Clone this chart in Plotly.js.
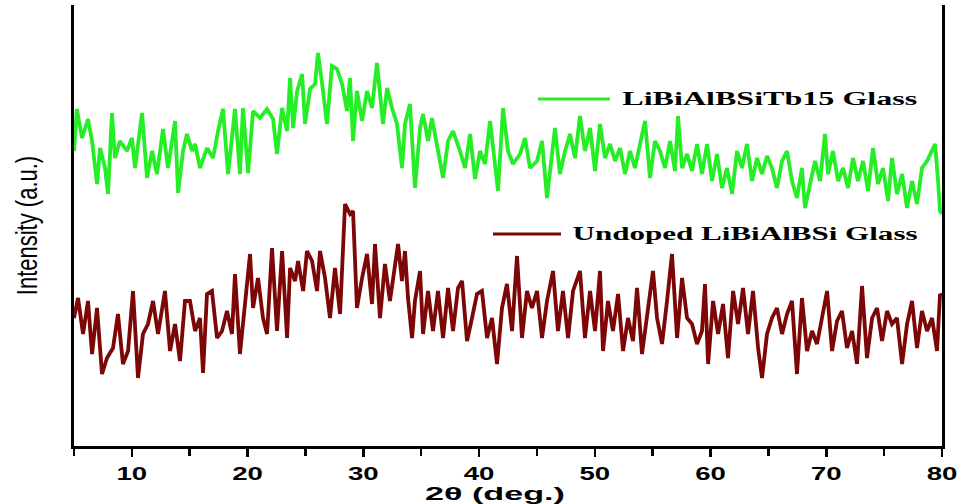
<!DOCTYPE html>
<html>
<head>
<meta charset="utf-8">
<script src="https://cdn.plot.ly/plotly-3.0.1.min.js"></script>
<style>
html,body{margin:0;padding:0;background:#fff;}
#chart{width:961px;height:504px;}
</style>
</head>
<body>
<div id="chart"></div>
<script>
// 2θ (deg.) values and intensities (a.u.)
const tbX = [5.0,5.25,5.69,6.21,6.56,6.99,7.25,7.68,7.94,8.28,8.54,8.97,9.58,10.01,10.27,10.88,11.31,11.74,12.17,12.69,13.12,13.73,13.99,14.42,14.76,15.20,15.46,15.89,16.49,17.01,17.45,17.88,18.31,18.91,19.34,19.60,20.04,20.47,21.07,21.68,22.20,22.54,22.98,23.41,23.67,23.93,24.28,24.71,24.96,25.40,25.83,26.08,26.52,26.86,27.29,27.73,28.16,28.59,28.85,29.11,29.45,29.89,30.32,30.75,31.18,31.70,32.05,32.48,32.91,33.34,33.60,34.03,34.46,34.90,35.16,35.59,35.93,36.45,36.89,37.32,37.75,38.35,38.79,39.22,39.65,40.08,40.51,40.95,41.38,41.64,42.07,42.50,42.93,43.54,43.97,44.40,45.01,45.44,45.87,46.30,46.56,46.99,47.43,47.86,48.29,48.72,49.15,49.59,50.02,50.45,50.88,51.31,51.75,52.18,52.61,53.04,53.47,53.91,54.34,54.77,55.20,55.63,56.07,56.50,56.93,57.19,57.54,57.97,58.40,58.83,59.26,59.70,60.13,60.56,60.99,61.42,61.86,62.29,62.72,63.15,63.58,64.02,64.45,64.88,65.31,65.74,66.18,66.61,67.04,67.47,67.90,68.16,68.60,69.03,69.46,69.89,70.15,70.58,71.02,71.45,71.88,72.31,72.74,73.18,73.61,74.04,74.47,74.90,75.34,75.68,76.11,76.55,76.98,77.41,77.84,78.27,78.71,79.14,79.40,79.66,79.83,80.0];
const tbY = [295,337,308,327,305,262,298,278,252,333,288,305,295,308,278,333,268,295,272,317,278,325,253,295,312,295,302,278,298,288,315,337,272,337,272,338,273,335,328,337,327,292,338,315,368,318,355,372,322,357,362,393,355,322,380,377,362,335,368,305,355,325,355,338,383,322,358,338,322,278,322,342,258,318,332,305,328,298,268,305,315,295,278,312,267,295,282,325,278,255,338,295,282,292,308,278,285,305,248,295,318,272,295,312,288,330,295,318,275,322,288,302,285,298,272,295,278,302,325,268,305,295,278,305,275,330,278,292,275,302,272,302,265,292,258,278,252,295,278,302,265,288,272,290,278,258,285,295,265,248,278,238,262,285,265,312,272,295,265,278,258,288,265,285,255,298,262,278,245,288,252,272,238,265,242,278,285,295,302,265,235,232];

const unX = [5.0,5.35,5.78,6.21,6.56,6.99,7.42,7.85,8.37,8.80,9.23,9.67,10.10,10.53,10.96,11.39,11.83,12.26,12.86,13.30,13.73,14.16,14.59,15.02,15.46,15.89,16.15,16.49,16.92,17.36,17.79,18.22,18.65,18.91,19.34,19.77,20.21,20.47,20.90,21.33,21.68,22.11,22.54,22.98,23.41,23.67,24.10,24.36,24.80,25.13,25.57,26.00,26.26,26.69,27.12,27.55,27.99,28.42,28.85,29.11,29.45,29.89,30.32,30.75,31.01,31.44,31.87,32.30,33.00,33.34,33.60,33.86,34.21,34.46,34.90,35.16,35.59,36.02,36.45,36.89,37.32,37.75,38.18,38.53,38.96,39.39,39.82,40.25,40.69,41.12,41.55,41.98,42.41,42.85,43.28,43.71,44.14,44.57,45.01,45.44,45.87,46.39,46.82,47.25,47.69,48.12,48.72,49.15,49.59,50.02,50.45,50.71,51.14,51.57,52.01,52.44,52.87,53.30,53.65,54.08,54.51,55.03,55.38,55.81,56.24,56.67,57.11,57.54,57.97,58.40,58.83,59.26,59.52,59.79,60.22,60.65,61.08,61.51,61.95,62.38,62.81,63.24,63.67,64.11,64.45,64.88,65.31,65.74,66.18,66.61,67.04,67.47,67.90,68.34,68.77,69.20,69.63,70.07,70.50,70.93,71.36,71.79,72.23,72.66,73.09,73.52,73.96,74.39,74.82,75.25,75.68,76.11,76.55,76.98,77.41,77.84,78.27,78.71,79.14,79.57,79.83,80.0];
const unY = [128,148,112,145,92,138,72,88,98,132,82,95,155,68,112,122,145,112,155,95,122,85,145,145,115,128,73,152,155,108,115,135,112,172,92,138,192,138,168,128,112,198,115,195,108,178,165,185,155,195,185,155,195,168,128,178,132,242,232,235,138,168,192,142,202,128,182,145,202,165,195,148,108,145,175,112,155,115,155,108,158,115,158,165,105,128,152,155,108,128,82,138,162,115,190,108,155,138,155,108,145,175,115,155,108,155,175,108,155,115,175,95,145,115,152,95,128,105,158,92,128,175,128,102,145,192,108,168,128,122,102,115,162,82,145,112,142,88,155,122,158,112,155,98,68,112,128,138,112,132,145,72,148,95,115,102,128,155,95,125,135,98,115,82,160,88,128,138,105,135,122,128,82,122,145,98,135,115,128,95,152,150];

const seriesNames = ['LiBiAlBSiTb15 Glass', 'Undoped LiBiAlBSi Glass'];
const xTickVals = [10,20,30,40,50,60,70,80];
const xMinorVals = [5,15,25,35,45,55,65,75];
const greenC = '#26ee26', redC = '#7d0606';

const traces = [
  {x: tbX, y: tbY, type:'scatter', mode:'lines', name: seriesNames[0],
   line:{color:greenC, width:3.8}},
  {x: unX, y: unY, type:'scatter', mode:'lines', name: seriesNames[1],
   line:{color:redC, width:3.8}}
];

const L = 74, R = 942, T = 5, B = 446;
const px = v => (v - L) / (R - L);
const py = v => (B - v) / (B - T);

const layout = {
  width: 961, height: 504,
  margin: {l: L, r: 961 - R, t: T, b: 504 - B},
  paper_bgcolor: '#fff', plot_bgcolor: '#fff',
  showlegend: false,
  xaxis: {
    range: [5, 80], tickvals: xTickVals, ticktext: xTickVals.map(String),
    ticks: 'outside', ticklen: 8, tickwidth: 2.5, tickcolor: '#000',
    ticklabelstandoff: 0,
    minor: {tickvals: xMinorVals, ticks:'outside', ticklen: 7, tickwidth: 2.5, tickcolor:'#000'},
    showline: true, linecolor: '#000', linewidth: 3,
    showgrid: false, zeroline: false,
    tickfont: {family: 'Liberation Sans, Arial', size: 19, color: '#000', weight: 'bold'},
    title: {text: '2θ (deg.)', font: {family: 'Liberation Sans, Arial', size: 19, color: '#000', weight: 'bold'}, standoff: 6}
  },
  yaxis: {
    range: [0, 441], showticklabels: false, ticks: '',
    showline: true, mirror: true, linecolor: '#000', linewidth: 3,
    showgrid: false, zeroline: false,
    title: {text: 'Intensity (a.u.)', font: {family: 'Liberation Sans, Arial', size: 22, color: '#000'}, standoff: 28}
  },
  shapes: [
    {type:'line', xref:'paper', yref:'paper', x0: px(538), x1: px(610), y0: py(99), y1: py(99), line:{color:greenC, width:3}},
    {type:'line', xref:'paper', yref:'paper', x0: px(493), x1: px(561), y0: py(234), y1: py(234), line:{color:redC, width:3}}
  ],
  annotations: [
    {xref:'paper', yref:'paper', x: px(769.5), y: py(99), xanchor:'center', yanchor:'middle', showarrow:false,
     text: seriesNames[0],
     font:{family:'Liberation Serif, Times New Roman', size:18, color:'#000', weight:'bold'}},
    {xref:'paper', yref:'paper', x: px(745), y: py(234), xanchor:'center', yanchor:'middle', showarrow:false,
     text: seriesNames[1],
     font:{family:'Liberation Serif, Times New Roman', size:18, color:'#000', weight:'bold'}}
  ]
};

// the reference image is stretched horizontally; reproduce that on the texts
function stretchTo(el, len) {
  el.setAttribute('textLength', len.toFixed(1));
  el.setAttribute('lengthAdjust', 'spacingAndGlyphs');
}

Plotly.newPlot('chart', traces, layout, {displayModeBar: false, staticPlot: true}).then(gd => {
  gd.querySelectorAll('.xtick text').forEach(t => stretchTo(t, t.getComputedTextLength() * 1.45));
  const anns = gd.querySelectorAll('.annotation-text');
  if (anns[0]) stretchTo(anns[0], 295);
  if (anns[1]) stretchTo(anns[1], 345);
  const xt = gd.querySelector('.g-xtitle text');
  if (xt) {
    stretchTo(xt, 140);
    xt.setAttribute('x', (+xt.getAttribute('x') - 13).toFixed(1));
  }
  const yt = gd.querySelector('.g-ytitle text');
  if (yt) {
    const cx = +yt.getAttribute('x');
    const tr = yt.getAttribute('transform') || '';
    yt.setAttribute('transform', 'translate(' + cx + ',0) scale(1.3,1) translate(' + (-cx) + ',0) ' + tr);
  }
});
</script>
</body>
</html>
